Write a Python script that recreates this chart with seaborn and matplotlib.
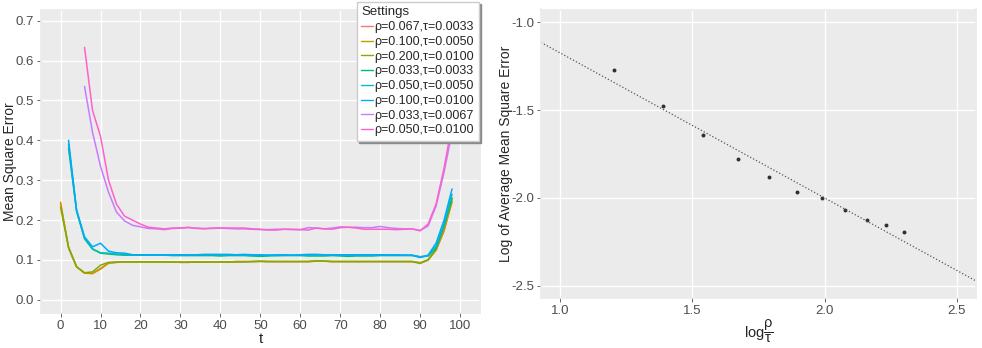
import numpy as np
import pandas as pd
import matplotlib
matplotlib.use("Agg")
import matplotlib.pyplot as plt
import seaborn as sns

# ---- left panel data: MSE vs t for each setting ----
settings = ["ρ=0.067,τ=0.0033", "ρ=0.100,τ=0.0050", "ρ=0.200,τ=0.0100",
            "ρ=0.033,τ=0.0033", "ρ=0.050,τ=0.0050", "ρ=0.100,τ=0.0100",
            "ρ=0.033,τ=0.0067", "ρ=0.050,τ=0.0100"]
palette = ["#F8766D", "#CD9600", "#7CAE00", "#00BE67",
           "#00BFC4", "#00A9FF", "#C77CFF", "#FF61CC"]

t_a = list(range(0, 100, 2))   # series starting at t=0
t_b = list(range(2, 100, 2))   # series starting at t=2
t_c = list(range(6, 100, 2))   # series starting at t=6

mse_067_0033 = [0.240, 0.131, 0.083, 0.067, 0.066, 0.079, 0.092, 0.094, 0.095, 0.095,
                0.095, 0.095, 0.095, 0.095, 0.095, 0.094, 0.094, 0.095, 0.095, 0.095,
                0.095, 0.095, 0.096, 0.096, 0.096, 0.097, 0.096, 0.096, 0.096, 0.096,
                0.096, 0.096, 0.097, 0.097, 0.096, 0.096, 0.096, 0.096, 0.096, 0.096,
                0.096, 0.096, 0.096, 0.096, 0.096, 0.093, 0.100, 0.124, 0.172, 0.248]
mse_100_0050 = [0.245, 0.130, 0.083, 0.067, 0.066, 0.077, 0.092, 0.094, 0.095, 0.095,
                0.095, 0.095, 0.095, 0.095, 0.095, 0.094, 0.094, 0.095, 0.095, 0.095,
                0.095, 0.095, 0.096, 0.096, 0.096, 0.097, 0.096, 0.096, 0.096, 0.096,
                0.096, 0.096, 0.097, 0.097, 0.096, 0.096, 0.096, 0.096, 0.096, 0.096,
                0.096, 0.096, 0.096, 0.096, 0.096, 0.093, 0.100, 0.125, 0.175, 0.245]
mse_200_0100 = [0.232, 0.132, 0.083, 0.068, 0.070, 0.087, 0.094, 0.095, 0.095, 0.095,
                0.095, 0.095, 0.095, 0.095, 0.095, 0.095, 0.095, 0.095, 0.095, 0.095,
                0.095, 0.095, 0.095, 0.095, 0.096, 0.096, 0.096, 0.096, 0.096, 0.096,
                0.096, 0.096, 0.098, 0.097, 0.096, 0.096, 0.096, 0.096, 0.096, 0.096,
                0.096, 0.096, 0.096, 0.096, 0.096, 0.091, 0.100, 0.128, 0.185, 0.255]
mse_033_0033 = [0.380, 0.222, 0.153, 0.127, 0.117, 0.115, 0.113, 0.112, 0.112, 0.112,
                0.112, 0.112, 0.112, 0.111, 0.111, 0.111, 0.111, 0.111, 0.111, 0.110,
                0.111, 0.111, 0.111, 0.110, 0.109, 0.110, 0.111, 0.111, 0.111, 0.111,
                0.110, 0.110, 0.110, 0.111, 0.110, 0.109, 0.110, 0.110, 0.110, 0.111,
                0.111, 0.111, 0.111, 0.111, 0.108, 0.110, 0.130, 0.185, 0.255]
mse_050_0050 = [0.390, 0.225, 0.155, 0.128, 0.118, 0.117, 0.115, 0.114, 0.113, 0.113,
                0.112, 0.112, 0.112, 0.112, 0.113, 0.112, 0.113, 0.113, 0.113, 0.112,
                0.112, 0.113, 0.112, 0.111, 0.111, 0.112, 0.111, 0.112, 0.112, 0.112,
                0.112, 0.112, 0.113, 0.112, 0.112, 0.112, 0.112, 0.112, 0.112, 0.112,
                0.112, 0.112, 0.112, 0.112, 0.108, 0.110, 0.135, 0.190, 0.265]
mse_100_0100 = [0.400, 0.225, 0.158, 0.133, 0.142, 0.122, 0.118, 0.117, 0.113, 0.113,
                0.113, 0.113, 0.113, 0.113, 0.113, 0.113, 0.113, 0.114, 0.114, 0.114,
                0.114, 0.113, 0.114, 0.113, 0.113, 0.112, 0.113, 0.113, 0.112, 0.113,
                0.114, 0.114, 0.113, 0.113, 0.113, 0.113, 0.113, 0.113, 0.113, 0.113,
                0.113, 0.113, 0.112, 0.112, 0.106, 0.112, 0.142, 0.200, 0.278]
mse_033_0067 = [0.535, 0.420, 0.335, 0.270, 0.220, 0.198, 0.187, 0.183, 0.179, 0.178,
                0.176, 0.179, 0.180, 0.181, 0.180, 0.179, 0.179, 0.180, 0.179, 0.178,
                0.178, 0.177, 0.176, 0.176, 0.177, 0.177, 0.176, 0.176, 0.181, 0.180,
                0.178, 0.180, 0.183, 0.182, 0.182, 0.181, 0.181, 0.184, 0.181, 0.179,
                0.178, 0.178, 0.174, 0.185, 0.235, 0.320, 0.420]
mse_050_0100 = [0.633, 0.475, 0.410, 0.300, 0.240, 0.210, 0.200, 0.190, 0.182, 0.180,
                0.178, 0.180, 0.180, 0.182, 0.179, 0.178, 0.180, 0.180, 0.180, 0.180,
                0.180, 0.178, 0.177, 0.175, 0.175, 0.177, 0.177, 0.176, 0.175, 0.180,
                0.178, 0.177, 0.181, 0.182, 0.180, 0.177, 0.177, 0.177, 0.177, 0.176,
                0.177, 0.178, 0.173, 0.190, 0.240, 0.330, 0.440]

series = [(t_a, mse_067_0033), (t_a, mse_100_0050), (t_a, mse_200_0100),
          (t_b, mse_033_0033), (t_b, mse_050_0050), (t_b, mse_100_0100),
          (t_c, mse_033_0067), (t_c, mse_050_0100)]

# ---- right panel data: log(rho/tau) vs log of average MSE ----
log_ratio = [1.203, 1.387, 1.541, 1.672, 1.791, 1.897, 1.992, 2.079, 2.159, 2.232, 2.300]
log_avg_mse = [-1.274, -1.475, -1.641, -1.778, -1.884, -1.968, -2.002, -2.067, -2.127, -2.156, -2.192]

frames = []
for name, (tt, vals) in zip(settings, series):
    frames.append(pd.DataFrame({"t": tt, "mse": vals, "Settings": name}))
df = pd.concat(frames, ignore_index=True)
df_r = pd.DataFrame({"x": log_ratio, "y": log_avg_mse})

sns.set_theme(style="darkgrid", rc={
    "axes.facecolor": "#EBEBEB",
    "grid.color": "white",
    "grid.linewidth": 1.0,
    "axes.edgecolor": "#EBEBEB",
    "xtick.color": "#4D4D4D",
    "ytick.color": "#4D4D4D",
    "xtick.bottom": True,
    "ytick.left": True,
    "xtick.major.size": 3,
    "ytick.major.size": 3,
    "xtick.major.width": 0.6,
    "ytick.major.width": 0.6,
    "xtick.major.pad": 2,
    "ytick.major.pad": 2,
    "axes.unicode_minus": False,
})
plt.rcParams["font.family"] = ["Liberation Sans", "DejaVu Sans"]
plt.rcParams["mathtext.fontset"] = "custom"
plt.rcParams["mathtext.rm"] = "Liberation Sans"
plt.rcParams["mathtext.it"] = "Liberation Sans:italic"

fig = plt.figure(figsize=(9.82, 3.48), dpi=100)
ax1 = fig.add_axes([41 / 982, 1 - 313 / 348, (480 - 41) / 982, (313 - 9.5) / 348])
ax2 = fig.add_axes([541 / 982, 1 - 298 / 348, (976 - 541) / 982, (298 - 9.5) / 348])

sns.lineplot(data=df, x="t", y="mse", hue="Settings", hue_order=settings,
             palette=palette, linewidth=1.1, ax=ax1)
ax1.set_xlim(-4.9, 105)
ax1.set_ylim(-0.033, 0.728)
ax1.set_xticks(range(0, 101, 10))
ax1.set_yticks(np.arange(0, 0.71, 0.1))
ax1.set_yticklabels([f"{v:.1f}" for v in np.arange(0, 0.71, 0.1)])
ax1.set_xlabel("t", fontsize=11, labelpad=0)
ax1.set_ylabel("Mean Square Error", fontsize=10)
ax1.yaxis.set_label_coords(-0.055, 0.5)
ax1.tick_params(labelsize=9.5)

handles, labels = ax1.get_legend_handles_labels()
leg = ax1.legend(handles, labels, title="Settings", loc="upper left",
                 bbox_to_anchor=(357 / 982, 1 - 2 / 348), bbox_transform=fig.transFigure,
                 fontsize=9, title_fontsize=9.5, frameon=True, fancybox=False,
                 shadow={"ox": 1.5, "oy": -1.5, "color": "#8a8a8a", "alpha": 1},
                 handlelength=0.9, handletextpad=0.15, labelspacing=0.22,
                 borderpad=0.35, borderaxespad=0, alignment="left")
leg.get_frame().set_facecolor("white")
leg.get_frame().set_edgecolor("#cccccc")
leg.get_frame().set_alpha(1)
for ln in leg.get_lines():
    ln.set_linewidth(1.0)

ax2.set_xlim(0.927, 2.573)
ax2.set_ylim(-2.57, -0.928)
sns.regplot(data=df_r, x="x", y="y", ci=None, truncate=False, ax=ax2,
            scatter_kws={"s": 8, "color": "black", "linewidths": 0},
            line_kws={"color": "#555555", "linestyle": ":", "linewidth": 0.9})
ax2.set_xlim(0.927, 2.573)
ax2.set_ylim(-2.57, -0.928)
ax2.set_xticks([1.0, 1.5, 2.0, 2.5])
ax2.set_xticklabels(["1.0", "1.5", "2.0", "2.5"])
ax2.set_yticks([-1.0, -1.5, -2.0, -2.5])
ax2.set_yticklabels(["-1.0", "-1.5", "-2.0", "-2.5"])
ax2.set_xlabel(r"log$\mathregular{\dfrac{\rho}{\tau}}$", fontsize=10.5, labelpad=0)
ax2.set_ylabel("Log of Average Mean Square Error", fontsize=10)
ax2.yaxis.set_label_coords(-0.064, 0.5)
ax2.tick_params(labelsize=9.5)

fig.savefig("out.png", dpi=100)
